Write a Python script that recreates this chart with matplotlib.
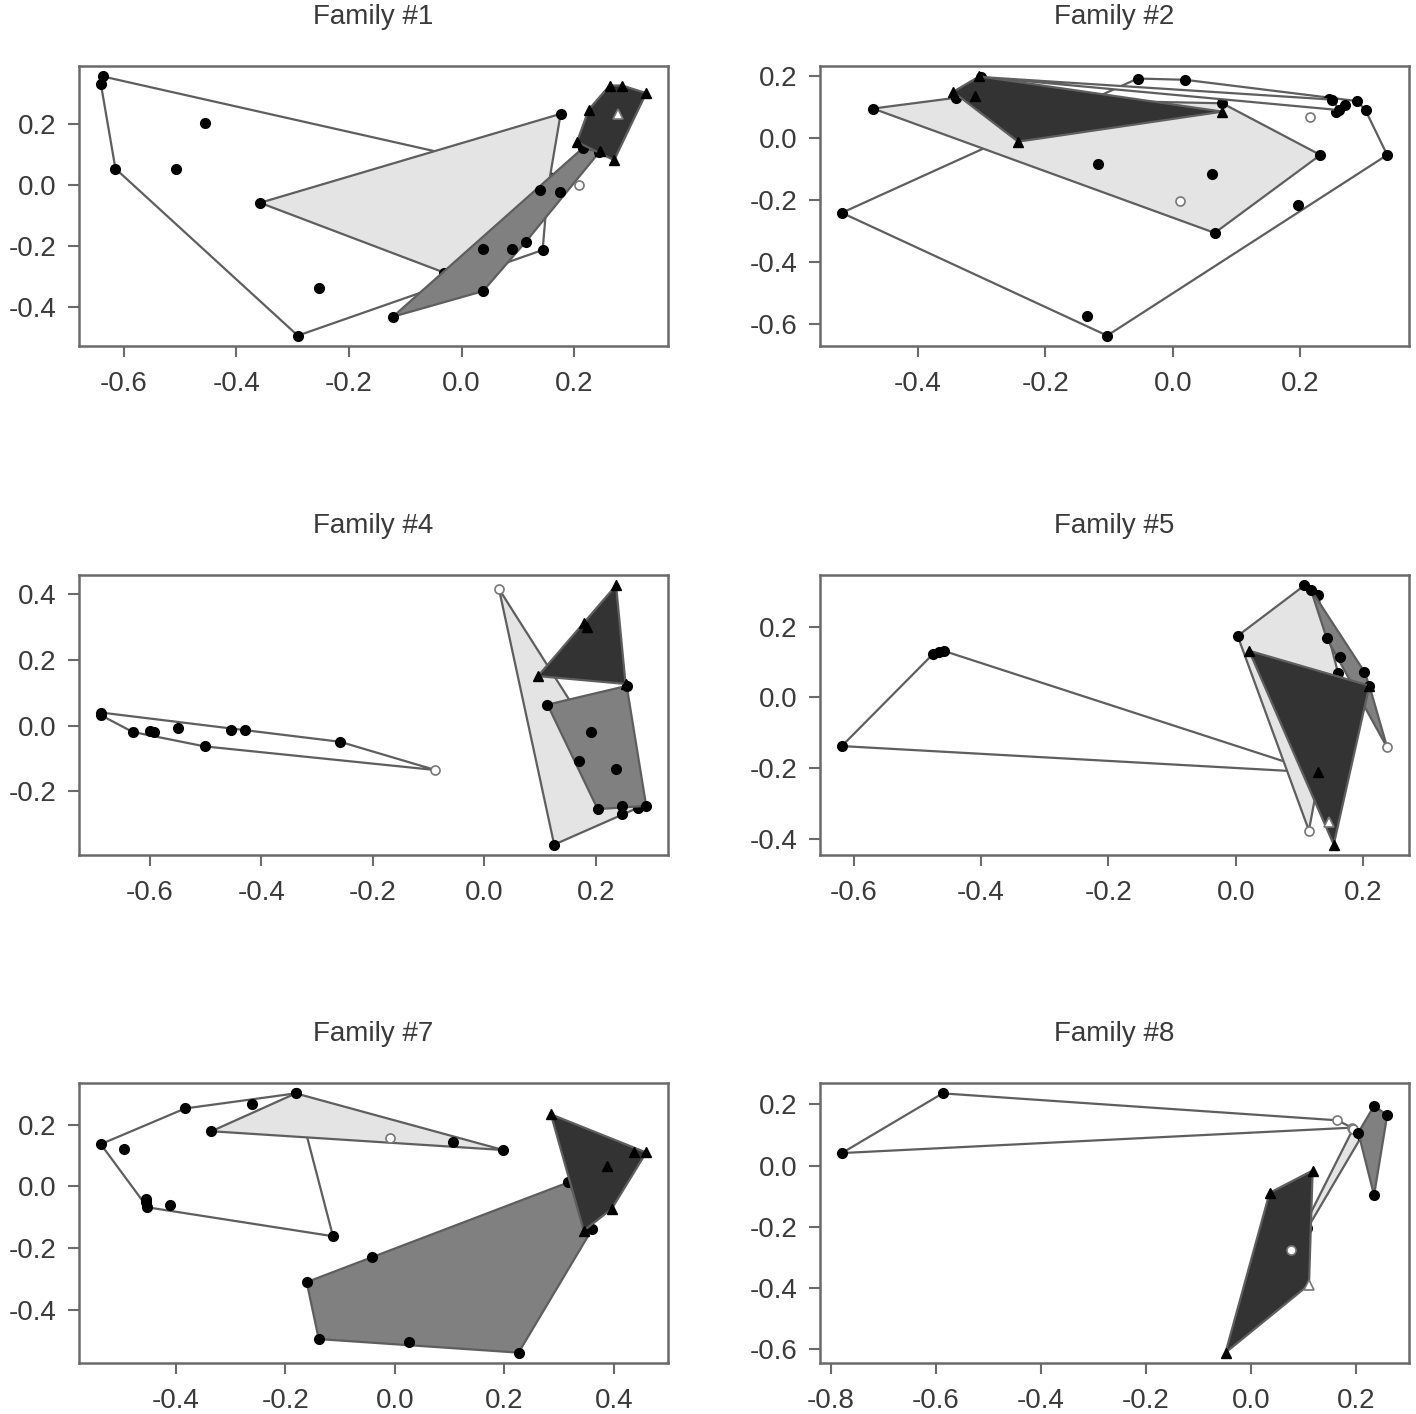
#! /usr/bin/env python3

import matplotlib.pyplot as plt
from matplotlib.patches import Polygon

plt.rcParams['font.family'] = ['Liberation Sans', 'DejaVu Sans']

## Data: points of each group

# Family #1
f1_white = [(-0.638, 0.356), (-0.641, 0.332), (-0.615, 0.053), (-0.455, 0.202),
            (-0.507, 0.053), (-0.253, -0.338), (-0.291, -0.495), (0.144, -0.214),
            (0.155, 0.026)]
f1_light = [(-0.358, -0.059), (0.176, 0.233), (0.150, -0.050), (-0.031, -0.288)]
f1_mid = [(-0.122, -0.433), (0.038, -0.349), (0.114, -0.187), (0.175, -0.025),
          (0.215, 0.120), (0.245, 0.108), (0.038, -0.210), (0.090, -0.210),
          (0.140, -0.018)]
f1_dark = [(0.263, 0.326), (0.285, 0.326), (0.328, 0.301), (0.271, 0.081),
           (0.205, 0.141), (0.226, 0.247), (0.246, 0.112)]
f1_dark_hollow = [(0.278, 0.231)]
f1_loose = [(0.209, -0.001)]

# Family #2
f2_white = [(-0.520, -0.242), (-0.055, 0.192), (0.019, 0.188), (0.290, 0.119),
            (0.303, 0.089), (0.337, -0.055), (-0.103, -0.639), (-0.135, -0.575),
            (0.197, -0.218), (0.271, 0.108), (0.257, 0.085), (0.246, 0.127)]
f2_band = [(-0.302, 0.197), (0.250, 0.124), (0.262, 0.090)]
f2_light = [(-0.471, 0.095), (-0.340, 0.130), (0.078, 0.112), (0.232, -0.055),
            (0.066, -0.307), (-0.117, -0.085), (0.061, -0.115)]
f2_light_hollow = [(0.012, -0.205)]
f2_dark = [(-0.345, 0.149), (-0.304, 0.199), (0.078, 0.085), (-0.243, -0.012),
           (-0.310, 0.135)]
f2_loose = [(0.215, 0.067)]

# Family #4
f4_white = [(-0.688, 0.040), (-0.688, 0.032), (-0.631, -0.019), (-0.600, -0.017),
            (-0.592, -0.020), (-0.549, -0.007), (-0.502, -0.063), (-0.454, -0.012),
            (-0.430, -0.014), (-0.259, -0.049)]
f4_white_hollow = [(-0.088, -0.135)]
f4_light = [(0.125, -0.362), (0.247, -0.269), (0.275, -0.250)]
f4_light_hollow = [(0.026, 0.416)]
f4_mid = [(0.113, 0.064), (0.255, 0.121), (0.290, -0.244), (0.247, -0.245),
          (0.203, -0.254), (0.191, -0.020), (0.170, -0.108), (0.236, -0.131)]
f4_dark = [(0.096, 0.151), (0.236, 0.427), (0.253, 0.127), (0.179, 0.311),
           (0.183, 0.300)]

# Family #5
f5_white = [(-0.619, -0.138), (-0.476, 0.122), (-0.467, 0.127), (-0.458, 0.131),
            (0.130, -0.213)]
f5_light = [(0.003, 0.174), (0.108, 0.317), (0.129, 0.289), (0.161, 0.068)]
f5_light_hollow = [(0.115, -0.377)]
f5_mid = [(0.118, 0.305), (0.143, 0.167), (0.164, 0.115), (0.202, 0.073),
          (0.210, 0.033)]
f5_mid_hollow = [(0.238, -0.142)]
f5_dark = [(0.021, 0.132), (0.210, 0.033), (0.154, -0.417), (0.129, -0.211)]
f5_dark_hollow = [(0.146, -0.353)]

# Family #7
f7_white = [(-0.537, 0.137), (-0.383, 0.253), (-0.261, 0.267), (-0.181, 0.302),
            (-0.113, -0.162), (-0.452, -0.068), (-0.455, -0.040), (-0.495, 0.121),
            (-0.410, -0.060), (-0.455, -0.050)]
f7_light = [(-0.335, 0.179), (-0.181, 0.302), (0.198, 0.118), (0.107, 0.145)]
f7_light_hollow = [(-0.008, 0.156)]
f7_mid = [(-0.161, -0.311), (-0.041, -0.230), (0.317, 0.013), (0.360, -0.140),
          (0.226, -0.540), (0.026, -0.505), (-0.139, -0.496)]
f7_dark = [(0.285, 0.234), (0.436, 0.110), (0.459, 0.110), (0.396, -0.073),
           (0.345, -0.144), (0.388, 0.067)]

# Family #8
f8_white = [(-0.779, 0.041), (-0.587, 0.236)]
f8_white_hollow = [(0.165, 0.148), (0.193, 0.124)]
f8_light = [(0.212, 0.098), (0.108, -0.205), (0.104, -0.190)]
f8_light_hollow = [(0.195, 0.120)]
f8_mid = [(0.205, 0.108), (0.235, 0.195), (0.260, 0.165), (0.235, -0.097)]
f8_dark = [(-0.048, -0.611), (0.036, -0.089), (0.118, -0.016)]
f8_dark_hollow = [(0.111, -0.389)]
f8_loose = [(0.077, -0.276)]

## Tick values

f1_xticks = [-0.6, -0.4, -0.2, 0.0, 0.2]
f1_yticks = [-0.4, -0.2, 0.0, 0.2]
f2_xticks = [-0.4, -0.2, 0.0, 0.2]
f2_yticks = [-0.6, -0.4, -0.2, 0.0, 0.2]
f4_xticks = [-0.6, -0.4, -0.2, 0.0, 0.2]
f4_yticks = [-0.2, 0.0, 0.2, 0.4]
f5_xticks = [-0.6, -0.4, -0.2, 0.0, 0.2]
f5_yticks = [-0.4, -0.2, 0.0, 0.2]
f7_xticks = [-0.4, -0.2, 0.0, 0.2, 0.4]
f7_yticks = [-0.4, -0.2, 0.0, 0.2]
f8_xticks = [-0.8, -0.6, -0.4, -0.2, 0.0, 0.2]
f8_yticks = [-0.6, -0.4, -0.2, 0.0, 0.2]


def chull(pts):
    """Convex hull, monotone chain."""
    p = sorted(set(pts))
    if len(p) < 3:
        return p

    def cross(o, a, b):
        return (a[0] - o[0]) * (b[1] - o[1]) - (a[1] - o[1]) * (b[0] - o[0])

    lower, upper = [], []
    for q in p:
        while len(lower) >= 2 and cross(lower[-2], lower[-1], q) <= 0:
            lower.pop()
        lower.append(q)
    for q in reversed(p):
        while len(upper) >= 2 and cross(upper[-2], upper[-1], q) <= 0:
            upper.pop()
        upper.append(q)
    return lower[:-1] + upper[:-1]


FILL = {"white": "white", "light": "#e4e4e4", "mid": "#808080", "dark": "#333333"}
EDGE = "#5e5e5e"
TXT = "#3a3a3a"

panels = [
    ("Family #1", f1_xticks, f1_yticks,
     [("white", f1_white, []), ("light", f1_light, []), ("mid", f1_mid, []),
      ("dark", f1_dark, f1_dark_hollow)], f1_loose),
    ("Family #2", f2_xticks, f2_yticks,
     [("white", f2_white, []), ("light", f2_light, f2_light_hollow),
      ("white", f2_band, []), ("dark", f2_dark, [])], f2_loose),
    ("Family #4", f4_xticks, f4_yticks,
     [("white", f4_white, f4_white_hollow), ("light", f4_light, f4_light_hollow),
      ("mid", f4_mid, []), ("dark", f4_dark, [])], []),
    ("Family #5", f5_xticks, f5_yticks,
     [("white", f5_white, []), ("light", f5_light, f5_light_hollow),
      ("mid", f5_mid, f5_mid_hollow), ("dark", f5_dark, f5_dark_hollow)], []),
    ("Family #7", f7_xticks, f7_yticks,
     [("white", f7_white, []), ("light", f7_light, f7_light_hollow),
      ("mid", f7_mid, []), ("dark", f7_dark, [])], []),
    ("Family #8", f8_xticks, f8_yticks,
     [("white", f8_white, f8_white_hollow), ("light", f8_light, f8_light_hollow),
      ("mid", f8_mid, []), ("dark", f8_dark, f8_dark_hollow)], f8_loose),
]

fig = plt.figure(figsize=(14.16, 14.14), dpi=100)

lefts = [79 / 1416, 820 / 1416]
bottoms = [1 - 346 / 1414, 1 - 855 / 1414, 1 - 1363 / 1414]
w, h = 589 / 1416, 280 / 1414

for i, (title, xt, yt, groups, loose) in enumerate(panels):
    ax = fig.add_axes([lefts[i % 2], bottoms[i // 2], w, h])

    z = 2
    allpts = list(loose)
    for kind, pts, hollow in groups:
        members = pts + hollow
        allpts += members
        hl = chull(members)
        if len(hl) >= 3:
            ax.add_patch(Polygon(hl, closed=True, facecolor=FILL[kind],
                                 edgecolor=EDGE, linewidth=1.6, zorder=z))
        else:
            ax.plot([p[0] for p in hl], [p[1] for p in hl], color=EDGE,
                    linewidth=1.6, zorder=z)
        mk = "^" if kind == "dark" else "o"
        ax.plot([p[0] for p in pts], [p[1] for p in pts], mk, color="black",
                markersize=7, zorder=z + 0.5)
        if hollow:
            ax.plot([p[0] for p in hollow], [p[1] for p in hollow], mk,
                    markerfacecolor="white", markeredgecolor="#777777",
                    markeredgewidth=1.2, markersize=6.5, zorder=z + 0.6)
        z += 1
    if loose:
        ax.plot([p[0] for p in loose], [p[1] for p in loose], "o",
                markerfacecolor="white", markeredgecolor="#777777",
                markeredgewidth=1.2, markersize=6.5, zorder=z + 1)

    # R style limits: range of the data plus 4 %
    xs = [p[0] for p in allpts]
    ys = [p[1] for p in allpts]
    dx = (max(xs) - min(xs)) * 0.04
    dy = (max(ys) - min(ys)) * 0.04
    ax.set_xlim(min(xs) - dx, max(xs) + dx)
    ax.set_ylim(min(ys) - dy, max(ys) + dy)

    ax.set_xticks(xt)
    ax.set_xticklabels([f"{v:.1f}" for v in xt])
    ax.set_yticks(yt)
    ax.set_yticklabels([f"{v:.1f}" for v in yt])
    ax.tick_params(axis="both", direction="out", length=8, width=1.5,
                   colors="#6a6a6a", labelcolor=TXT, labelsize=20)
    ax.tick_params(axis="x", pad=10)
    ax.tick_params(axis="y", pad=8)
    for s in ax.spines.values():
        s.set_color("#6a6a6a")
        s.set_linewidth(1.8)

    ax.set_title(title, fontsize=20, color=TXT, pad=30)

fig.savefig("out.png", dpi=100)
